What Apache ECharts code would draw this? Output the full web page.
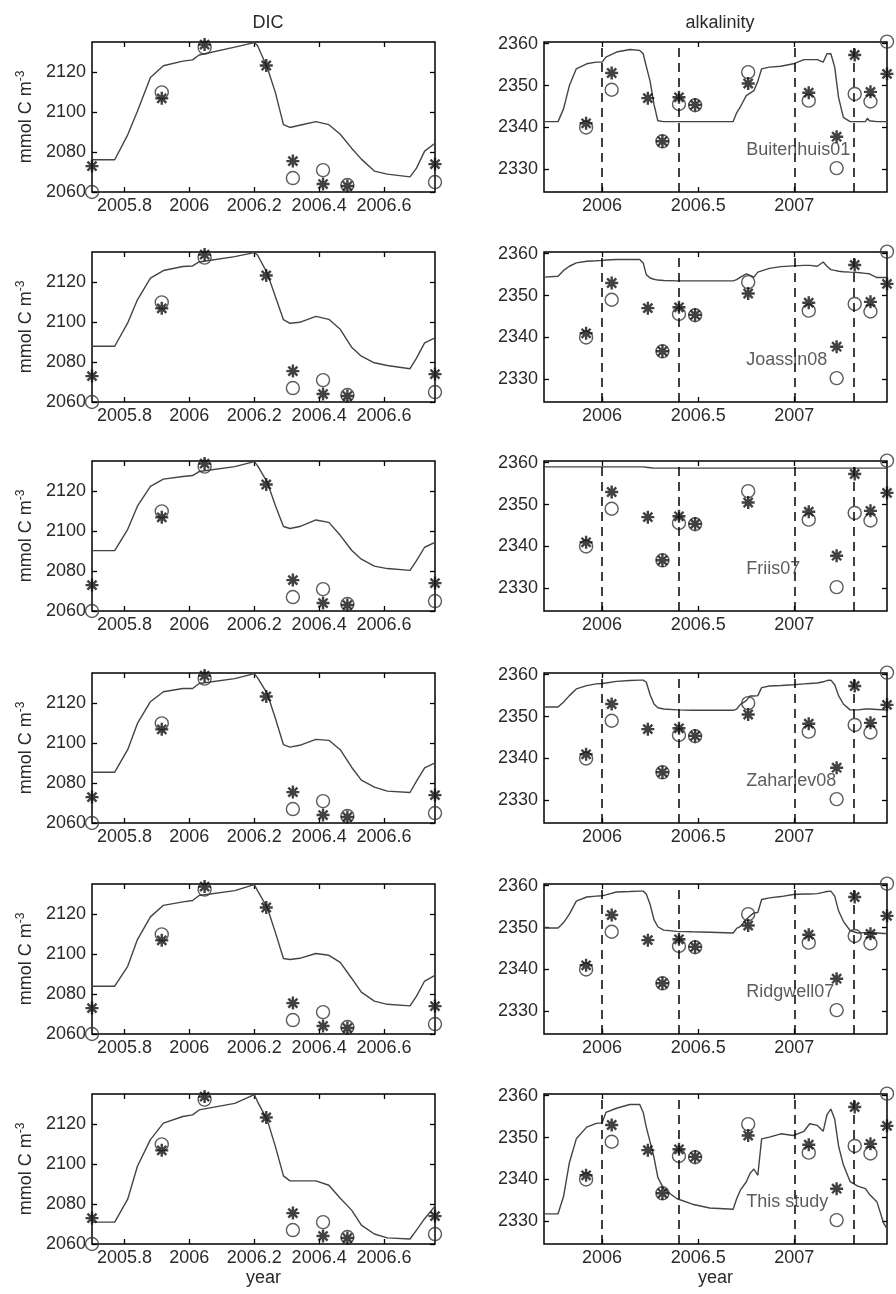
<!DOCTYPE html>
<html><head><meta charset="utf-8">
<script src="https://cdn.jsdelivr.net/npm/echarts@6/dist/echarts.min.js"></script>
<style>html,body{margin:0;padding:0;background:#fff}#c{width:896px;height:1294px}</style>
</head><body><div id="c"></div>
<script>
// ---------- data ----------
const modelNames = ['Buitenhuis01', 'Joassin08', 'Friis07', 'Zahariev08', 'Ridgwell07', 'This study'];

const dicTime = [2005.70, 2005.77, 2005.81, 2005.84, 2005.88, 2005.92, 2005.98, 2006.01, 2006.03, 2006.14, 2006.20, 2006.21, 2006.24, 2006.265, 2006.29, 2006.31, 2006.34, 2006.39, 2006.43, 2006.465, 2006.50, 2006.53, 2006.57, 2006.61, 2006.68, 2006.70, 2006.725, 2006.757];
const dicBuitenhuis01 = [2076.2, 2076.2, 2088.7, 2100.5, 2117.5, 2123.4, 2125.7, 2126.3, 2128.8, 2132.7, 2135.0, 2133.5, 2122.5, 2110.0, 2093.8, 2092.4, 2093.5, 2095.3, 2093.8, 2089.0, 2082.0, 2076.5, 2070.5, 2069.0, 2067.6, 2072.0, 2080.5, 2084.5];
const dicJoassin08 = [2088.0, 2088.0, 2099.7, 2111.3, 2122.2, 2126.0, 2128.0, 2128.3, 2130.3, 2133.0, 2135.0, 2133.8, 2124.7, 2113.0, 2101.3, 2099.5, 2100.0, 2103.0, 2101.5, 2096.5, 2087.5, 2083.0, 2079.7, 2078.3, 2076.7, 2082.0, 2089.7, 2092.2];
const dicFriis07 = [2090.3, 2090.3, 2101.0, 2112.6, 2122.6, 2126.2, 2127.5, 2128.0, 2130.0, 2132.5, 2135.0, 2133.0, 2124.7, 2113.0, 2102.4, 2101.4, 2102.4, 2105.7, 2104.5, 2098.0, 2090.5, 2086.0, 2082.5, 2081.3, 2080.4, 2085.3, 2092.0, 2094.4];
const dicZahariev08 = [2085.5, 2085.5, 2096.8, 2110.0, 2120.9, 2125.9, 2127.5, 2127.5, 2130.0, 2132.5, 2135.0, 2133.0, 2125.0, 2112.6, 2099.3, 2098.1, 2099.0, 2102.0, 2101.5, 2096.8, 2088.0, 2081.5, 2078.0, 2076.0, 2075.3, 2081.0, 2087.7, 2090.2];
const dicRidgwell07 = [2084.0, 2084.0, 2094.0, 2107.4, 2118.8, 2124.6, 2126.3, 2127.0, 2129.5, 2132.0, 2135.0, 2132.0, 2123.5, 2111.0, 2097.9, 2097.4, 2098.0, 2100.4, 2099.5, 2096.0, 2088.0, 2081.0, 2076.5, 2074.9, 2074.1, 2079.0, 2086.6, 2089.4];
const dicThisStudy = [2071.0, 2071.0, 2082.5, 2099.0, 2112.4, 2120.7, 2124.0, 2124.8, 2127.3, 2130.6, 2135.0, 2131.5, 2122.3, 2109.0, 2094.2, 2091.7, 2091.7, 2091.7, 2089.5, 2083.0, 2077.0, 2069.5, 2065.0, 2063.1, 2062.5, 2067.0, 2072.7, 2079.0];

const alkTime = [2005.698, 2005.771, 2005.80, 2005.83, 2005.866, 2005.92, 2005.97, 2006.00, 2006.02, 2006.075, 2006.144, 2006.196, 2006.214, 2006.23, 2006.25, 2006.27, 2006.29, 2006.32, 2006.39, 2006.47, 2006.56, 2006.682, 2006.70, 2006.72, 2006.75, 2006.77, 2006.79, 2006.81, 2006.83, 2006.87, 2006.93, 2006.995, 2007.05, 2007.08, 2007.12, 2007.15, 2007.17, 2007.19, 2007.21, 2007.23, 2007.255, 2007.29, 2007.33, 2007.37, 2007.38, 2007.39, 2007.43, 2007.465, 2007.482];
const alkBuitenhuis01 = [2341.4, 2341.4, 2344.5, 2350.0, 2354.0, 2355.2, 2355.6, 2355.6, 2356.8, 2358.0, 2358.6, 2358.4, 2357.6, 2354.6, 2351.0, 2345.5, 2341.6, 2341.4, 2341.4, 2341.4, 2341.4, 2341.4, 2343.5, 2345.0, 2347.6, 2348.2, 2348.8, 2351.0, 2354.0, 2354.4, 2354.6, 2355.2, 2356.2, 2356.2, 2356.2, 2355.6, 2357.6, 2357.6, 2354.4, 2347.2, 2342.4, 2341.4, 2341.4, 2341.4, 2342.2, 2341.6, 2341.4, 2341.4, 2341.4];
const alkJoassin08 = [2354.4, 2354.6, 2356.0, 2357.0, 2357.8, 2358.2, 2358.3, 2358.4, 2358.5, 2358.6, 2358.6, 2358.6, 2357.8, 2355.0, 2354.2, 2353.9, 2353.7, 2353.6, 2353.5, 2353.5, 2353.5, 2353.5, 2353.8, 2354.4, 2355.2, 2354.8, 2354.4, 2355.6, 2355.9, 2356.5, 2356.9, 2357.1, 2357.2, 2357.2, 2357.0, 2358.0, 2357.0, 2356.2, 2356.0, 2355.8, 2355.7, 2355.6, 2355.5, 2355.3, 2355.2, 2355.2, 2354.3, 2354.3, 2354.3];
const alkFriis07 = [2359.0, 2359.0, 2359.0, 2359.0, 2359.0, 2359.0, 2359.0, 2359.0, 2359.0, 2359.0, 2359.0, 2359.0, 2359.0, 2358.9, 2358.8, 2358.7, 2358.7, 2358.7, 2358.7, 2358.7, 2358.7, 2358.7, 2358.7, 2358.7, 2358.7, 2358.7, 2358.7, 2358.7, 2358.7, 2358.7, 2358.7, 2358.7, 2358.7, 2358.7, 2358.7, 2358.7, 2358.7, 2358.7, 2358.7, 2358.7, 2358.7, 2358.7, 2358.7, 2358.7, 2358.7, 2358.7, 2358.7, 2358.7, 2358.7];
const alkZahariev08 = [2352.3, 2352.3, 2353.5, 2355.0, 2356.6, 2357.4, 2357.8, 2357.9, 2358.0, 2358.4, 2358.6, 2358.7, 2358.7, 2358.2, 2355.2, 2353.0, 2352.1, 2351.8, 2351.6, 2351.5, 2351.5, 2351.5, 2351.8, 2352.9, 2353.8, 2354.9, 2354.9, 2355.0, 2356.9, 2357.3, 2357.4, 2357.6, 2357.8, 2357.9, 2358.0, 2358.3, 2358.6, 2358.7, 2357.6, 2355.0, 2353.0, 2351.6, 2351.6, 2351.8, 2351.8, 2351.8, 2351.7, 2351.6, 2351.6];
const alkRidgwell07 = [2349.9, 2349.9, 2351.2, 2353.2, 2356.3, 2357.3, 2357.5, 2357.6, 2357.8, 2358.5, 2358.6, 2358.7, 2358.7, 2358.0, 2355.5, 2351.9, 2350.2, 2349.4, 2349.1, 2349.0, 2348.9, 2348.7, 2349.8, 2350.3, 2351.9, 2352.8, 2353.5, 2353.6, 2356.7, 2357.1, 2357.4, 2357.9, 2358.0, 2358.0, 2358.1, 2358.4, 2358.6, 2358.7, 2357.5, 2354.0, 2351.5, 2349.3, 2348.7, 2348.8, 2348.8, 2348.8, 2348.7, 2348.6, 2348.6];
const alkThisStudy = [2331.8, 2331.8, 2336.0, 2344.0, 2349.7, 2352.5, 2353.4, 2353.5, 2356.0, 2357.0, 2357.9, 2357.9, 2356.0, 2352.5, 2348.9, 2345.3, 2340.5, 2337.8, 2335.4, 2334.1, 2333.2, 2332.9, 2335.4, 2337.5, 2339.4, 2341.5, 2342.5, 2341.0, 2349.7, 2350.1, 2350.9, 2350.5, 2351.5, 2353.3, 2352.9, 2351.5, 2355.5, 2356.8, 2354.4, 2348.0, 2343.5, 2339.5, 2338.4, 2337.8, 2337.8, 2336.5, 2334.6, 2329.5, 2328.3];

const dicObsTime = [2005.70, 2005.915, 2006.047, 2006.237, 2006.319, 2006.412, 2006.487, 2006.757];
const dicObsCircle = [2060, 2110, 2132.5, null, 2067, 2071, 2063.5, 2065];
const dicObsStar = [2073, 2107, 2134, 2123.5, 2075.5, 2064, 2063, 2074];

const alkObsTime = [2005.917, 2006.05, 2006.238, 2006.314, 2006.40, 2006.484, 2006.76, 2007.075, 2007.22, 2007.314, 2007.396, 2007.482];
const alkObsCircle = [2340, 2349, null, 2336.7, 2345.6, 2345.3, 2353.2, 2346.4, 2330.3, 2348, 2346.2, 2360.5];
const alkObsStar = [2341, 2353, 2347, 2336.7, 2347.2, 2345.4, 2350.5, 2348.3, 2337.8, 2357.3, 2348.5, 2352.8];

const alkDashLines = [2006.0, 2006.4, 2007.0, 2007.305];

const dicXTicks = [2005.8, 2006, 2006.2, 2006.4, 2006.6];
const dicYTicks = [2060, 2080, 2100, 2120];
const alkXTicks = [2006, 2006.5, 2007];
const alkYTicks = [2330, 2340, 2350, 2360];

const dicModels = [dicBuitenhuis01, dicJoassin08, dicFriis07, dicZahariev08, dicRidgwell07, dicThisStudy];
const alkModels = [alkBuitenhuis01, alkJoassin08, alkFriis07, alkZahariev08, alkRidgwell07, alkThisStudy];

// ---------- layout / build ----------
const FONT = '"Liberation Sans", Arial, sans-serif';
const TXT = '#2a2a2a';
const rowTops = [42, 252, 461, 673, 884, 1094];
const PH = 150;
const colLeft = [92, 544];
const PW = 343;
const STAR = 'path://M0,-10L0,10M-10,0L10,0M-7,-7L7,7M-7,7L7,-7';

const grids = [], xAxes = [], yAxes = [], series = [];
const zip = (xs, ys) => xs.map((x, i) => [x, ys[i]]).filter(p => p[1] !== null && p[1] !== undefined);
const plain = v => String(Math.round(v * 10) / 10);

function panel(col, row) {
  const gi = grids.length;
  grids.push({left: colLeft[col], top: rowTops[row], width: PW, height: PH,
    show: true, borderColor: '#000', borderWidth: 1.5, backgroundColor: 'transparent'});
  const isDic = col === 0;
  const xr = isDic ? [2005.70, 2006.757] : [2005.698, 2007.482];
  const yr = isDic ? [2060, 2135.3] : [2324.6, 2360.4];
  const xt = isDic ? dicXTicks : alkXTicks;
  const yt = isDic ? dicYTicks : alkYTicks;
  const lab = {fontSize: 18, color: TXT, fontFamily: FONT, formatter: plain};
  const tick = (vals) => ({show: true, inside: true, length: 5, customValues: vals, lineStyle: {color: '#000', width: 1.3}});
  xAxes.push({type: 'value', gridIndex: gi, position: 'bottom', min: xr[0], max: xr[1],
    axisLine: {show: false}, splitLine: {show: false}, axisTick: tick(xt),
    axisLabel: Object.assign({customValues: xt, margin: 5}, lab),
    name: row === 5 ? 'year' : '', nameLocation: 'middle', nameGap: 25,
    nameTextStyle: {fontSize: 18, color: TXT, fontFamily: FONT}});
  xAxes.push({type: 'value', gridIndex: gi, position: 'top', min: xr[0], max: xr[1],
    axisLine: {show: false}, splitLine: {show: false}, axisTick: tick(xt), axisLabel: {show: false}});
  yAxes.push({type: 'value', gridIndex: gi, position: 'left', min: yr[0], max: yr[1],
    axisLine: {show: false}, splitLine: {show: false}, axisTick: tick(yt),
    axisLabel: Object.assign({customValues: yt, margin: 6}, lab),
    name: isDic ? 'mmol C m{sup|-3}' : '', nameLocation: 'middle', nameGap: 55, nameRotate: 90,
    nameTextStyle: {fontSize: 18, color: TXT, fontFamily: FONT,
      rich: {sup: {fontSize: 12, color: TXT, fontFamily: FONT, verticalAlign: 'top', padding: [0, 0, 10, 0]}}}});
  yAxes.push({type: 'value', gridIndex: gi, position: 'right', min: yr[0], max: yr[1],
    axisLine: {show: false}, splitLine: {show: false}, axisTick: tick(yt), axisLabel: {show: false}});
  const xi = 2 * gi, yi = 2 * gi;
  const time = isDic ? dicTime : alkTime;
  const vals = isDic ? dicModels[row] : alkModels[row];
  const lineS = {type: 'line', xAxisIndex: xi, yAxisIndex: yi, data: zip(time, vals),
    showSymbol: false, symbol: 'none', silent: true, z: 3,
    lineStyle: {color: '#444', width: 1.4}};
  if (!isDic) {
    lineS.markLine = {silent: true, symbol: ['none', 'none'], label: {show: false},
      lineStyle: {type: [9, 6], color: '#000', width: 1.5},
      data: alkDashLines.map(v => ({xAxis: v}))};
  }
  series.push(lineS);
  const ot = isDic ? dicObsTime : alkObsTime;
  const oc = isDic ? dicObsCircle : alkObsCircle;
  const os = isDic ? dicObsStar : alkObsStar;
  series.push({type: 'scatter', xAxisIndex: xi, yAxisIndex: yi, data: zip(ot, oc), clip: false,
    symbol: 'circle', symbolSize: 13, silent: true, z: 4,
    itemStyle: {color: 'rgba(0,0,0,0)', borderColor: '#333', borderWidth: 1.4}});
  series.push({type: 'scatter', xAxisIndex: xi, yAxisIndex: yi, data: zip(ot, os), clip: false,
    symbol: STAR, symbolSize: 13, silent: true, z: 5,
    itemStyle: {color: 'rgba(0,0,0,0)', borderColor: '#111', borderWidth: 2.4}});
  if (!isDic) {
    series.push({type: 'scatter', xAxisIndex: xi, yAxisIndex: yi, data: [[2006.75, 2334.6]],
      symbolSize: 0, silent: true, z: 6,
      label: {show: true, position: 'right', distance: 0, formatter: modelNames[row],
        fontSize: 18, color: '#333', fontFamily: FONT}});
  }
}

for (let r = 0; r < 6; r++) { panel(0, r); panel(1, r); }

const option = {
  animation: false,
  backgroundColor: '#fff',
  title: [
    {text: 'DIC', left: 263, top: 9, textAlign: 'center', textStyle: {fontSize: 18, fontWeight: 'normal', color: TXT, fontFamily: FONT}},
    {text: 'alkalinity', left: 715, top: 9, textAlign: 'center', textStyle: {fontSize: 18, fontWeight: 'normal', color: TXT, fontFamily: FONT}}
  ],
  grid: grids, xAxis: xAxes, yAxis: yAxes, series: series
};
const chart = echarts.init(document.getElementById('c'), null, {renderer: 'canvas'});
chart.setOption(option);
</script></body></html>
